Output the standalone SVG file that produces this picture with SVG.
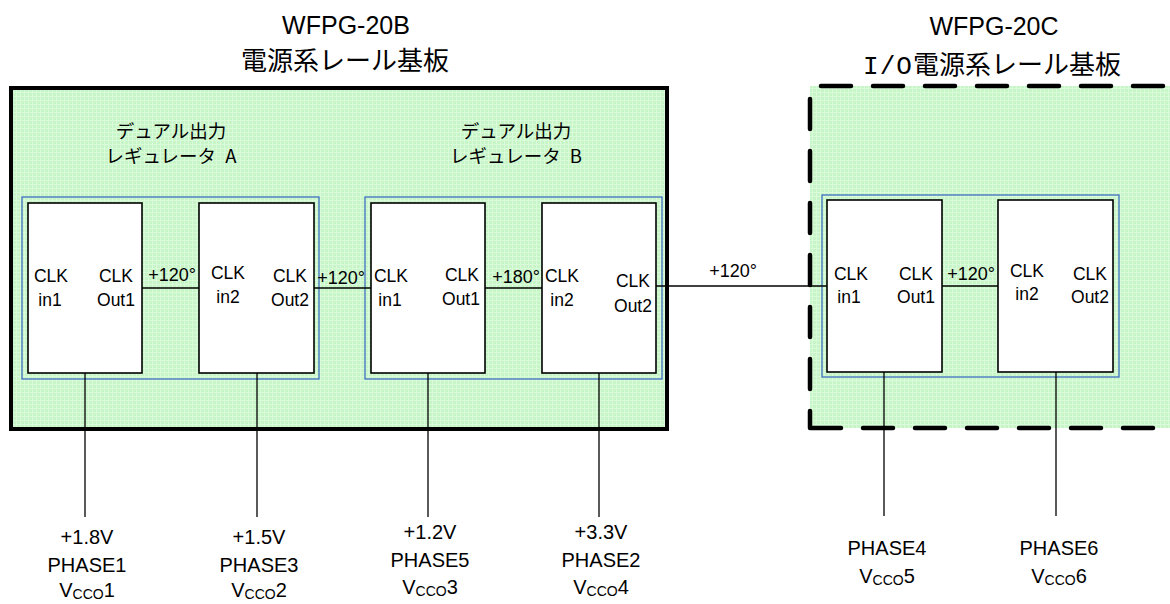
<svg xmlns="http://www.w3.org/2000/svg" width="1170" height="604" viewBox="0 0 1170 604">
<style>
.t{font-family:"Liberation Sans","Noto Sans CJK JP",sans-serif;fill:#000;text-anchor:middle}
.title{font-size:25px}
.jt{font-family:"Noto Sans CJK JP","Liberation Sans",sans-serif;font-size:26px;fill:#000;text-anchor:middle}
.mono{font-family:"Liberation Mono",monospace}
.sub{font-family:"Noto Sans CJK JP","Liberation Sans",sans-serif;font-size:18.5px;fill:#000;text-anchor:middle}
.pin{font-size:17.5px}
.deg{font-size:18px}
.lab{font-size:20px}
.box{fill:#fff;stroke:#000;stroke-width:1.6}
.grp{fill:none;stroke:#3f6fc0;stroke-width:1.3}
.wire{stroke:#000;stroke-width:1.3;fill:none}
.dash{stroke:#000;stroke-width:4.5;stroke-linecap:round;stroke-dasharray:30 22;fill:none}
</style>
<defs>
<pattern id="grid" width="4" height="4" patternUnits="userSpaceOnUse">
<rect width="4" height="4" fill="#c7f5c7"/>
<path d="M0 0.5H4M0.5 0V4" stroke="#dafbda" stroke-width="1"/>
</pattern>
</defs>
<rect width="1170" height="604" fill="#fff"/>

<g id="board-20B">
<rect x="11" y="88" width="656" height="341" fill="url(#grid)" stroke="#000" stroke-width="4"/>
<text class="t title" x="346" y="34">WFPG-20B</text>
<text class="jt" x="345" y="70">電源系レール基板</text>
</g>

<g id="board-20C">
<rect x="810" y="86" width="360" height="342" fill="url(#grid)"/>
<line class="dash" x1="821" y1="86" x2="1190" y2="86"/>
<line class="dash" x1="810" y1="99" x2="810" y2="428"/>
<line class="dash" x1="811" y1="428" x2="1190" y2="428"/>
<text class="t title" x="994" y="35">WFPG-20C</text>
<text class="jt" x="992" y="74"><tspan class="mono" letter-spacing="1">I/O</tspan>電源系レール基板</text>
</g>

<g id="regulator-A">
<text class="sub" x="171" y="138">デュアル出力</text>
<text class="sub" x="171" y="163">レギュレータ <tspan dx="5">A</tspan></text>
<rect class="grp" x="22" y="197" width="297" height="182"/>
</g>
<g id="regulator-B">
<text class="sub" x="516" y="138">デュアル出力</text>
<text class="sub" x="516" y="163">レギュレータ <tspan dx="5">B</tspan></text>
<rect class="grp" x="365" y="197" width="297" height="182"/>
</g>
<g id="regulator-C">
<rect class="grp" x="822" y="195" width="297" height="182"/>
</g>

<g id="connectors">
<line class="wire" x1="142" y1="288" x2="199" y2="288"/>
<line class="wire" x1="314" y1="288" x2="371" y2="288"/>
<line class="wire" x1="485" y1="288" x2="542" y2="288"/>
<line class="wire" x1="656" y1="286" x2="827" y2="286"/>
<line class="wire" x1="942" y1="286" x2="998" y2="286"/>
<line class="wire" x1="85" y1="373" x2="85" y2="517"/>
<line class="wire" x1="257" y1="373" x2="257" y2="517"/>
<line class="wire" x1="428" y1="373" x2="428" y2="517"/>
<line class="wire" x1="599" y1="373" x2="599" y2="517"/>
<line class="wire" x1="884" y1="372" x2="884" y2="516"/>
<line class="wire" x1="1056" y1="372" x2="1056" y2="516"/>
<text class="t deg" x="172" y="281">+120°</text>
<text class="t deg" x="341" y="284">+120°</text>
<text class="t deg" x="516" y="283">+180°</text>
<text class="t deg" x="733" y="277">+120°</text>
<text class="t deg" x="971" y="280">+120°</text>
</g>

<g id="A1">
<rect class="box" x="28" y="203" width="114" height="170"/>
<text class="t pin" x="51" y="282">CLK</text><text class="t pin" x="50" y="306">in1</text>
<text class="t pin" x="116" y="282">CLK</text><text class="t pin" x="116" y="306">Out1</text>
</g>
<g id="A2">
<rect class="box" x="199" y="203" width="115" height="170"/>
<text class="t pin" x="228" y="279">CLK</text><text class="t pin" x="228" y="303">in2</text>
<text class="t pin" x="290" y="282">CLK</text><text class="t pin" x="290" y="306">Out2</text>
</g>
<g id="B1">
<rect class="box" x="371" y="203" width="114" height="170"/>
<text class="t pin" x="391" y="282">CLK</text><text class="t pin" x="390" y="306">in1</text>
<text class="t pin" x="462" y="281">CLK</text><text class="t pin" x="461" y="305">Out1</text>
</g>
<g id="B2">
<rect class="box" x="542" y="203" width="114" height="170"/>
<text class="t pin" x="562" y="282">CLK</text><text class="t pin" x="562" y="306">in2</text>
<text class="t pin" x="633" y="287">CLK</text><text class="t pin" x="633" y="312">Out2</text>
</g>
<g id="C1">
<rect class="box" x="827" y="200" width="115" height="172"/>
<text class="t pin" x="851" y="280">CLK</text><text class="t pin" x="849" y="303">in1</text>
<text class="t pin" x="916" y="280">CLK</text><text class="t pin" x="916" y="303">Out1</text>
</g>
<g id="C2">
<rect class="box" x="998" y="200" width="115" height="172"/>
<text class="t pin" x="1027" y="277">CLK</text><text class="t pin" x="1027" y="300">in2</text>
<text class="t pin" x="1090" y="280">CLK</text><text class="t pin" x="1090" y="303">Out2</text>
</g>

<g id="out-1">
<text class="t lab" x="87" y="544">+1.8V</text>
<text class="t lab" x="87" y="572">PHASE1</text>
<text class="t lab" x="87" y="597">V<tspan font-size="14" dy="2">CCO</tspan><tspan dy="-2">1</tspan></text>
</g>
<g id="out-2">
<text class="t lab" x="259" y="544">+1.5V</text>
<text class="t lab" x="259" y="572">PHASE3</text>
<text class="t lab" x="259" y="597">V<tspan font-size="14" dy="2">CCO</tspan><tspan dy="-2">2</tspan></text>
</g>
<g id="out-3">
<text class="t lab" x="430" y="539">+1.2V</text>
<text class="t lab" x="430" y="567">PHASE5</text>
<text class="t lab" x="430" y="594">V<tspan font-size="14" dy="2">CCO</tspan><tspan dy="-2">3</tspan></text>
</g>
<g id="out-4">
<text class="t lab" x="601" y="539">+3.3V</text>
<text class="t lab" x="601" y="567">PHASE2</text>
<text class="t lab" x="601" y="594">V<tspan font-size="14" dy="2">CCO</tspan><tspan dy="-2">4</tspan></text>
</g>
<g id="out-5">
<text class="t lab" x="887" y="555">PHASE4</text>
<text class="t lab" x="887" y="583">V<tspan font-size="14" dy="2">CCO</tspan><tspan dy="-2">5</tspan></text>
</g>
<g id="out-6">
<text class="t lab" x="1059" y="555">PHASE6</text>
<text class="t lab" x="1059" y="583">V<tspan font-size="14" dy="2">CCO</tspan><tspan dy="-2">6</tspan></text>
</g>
</svg>
